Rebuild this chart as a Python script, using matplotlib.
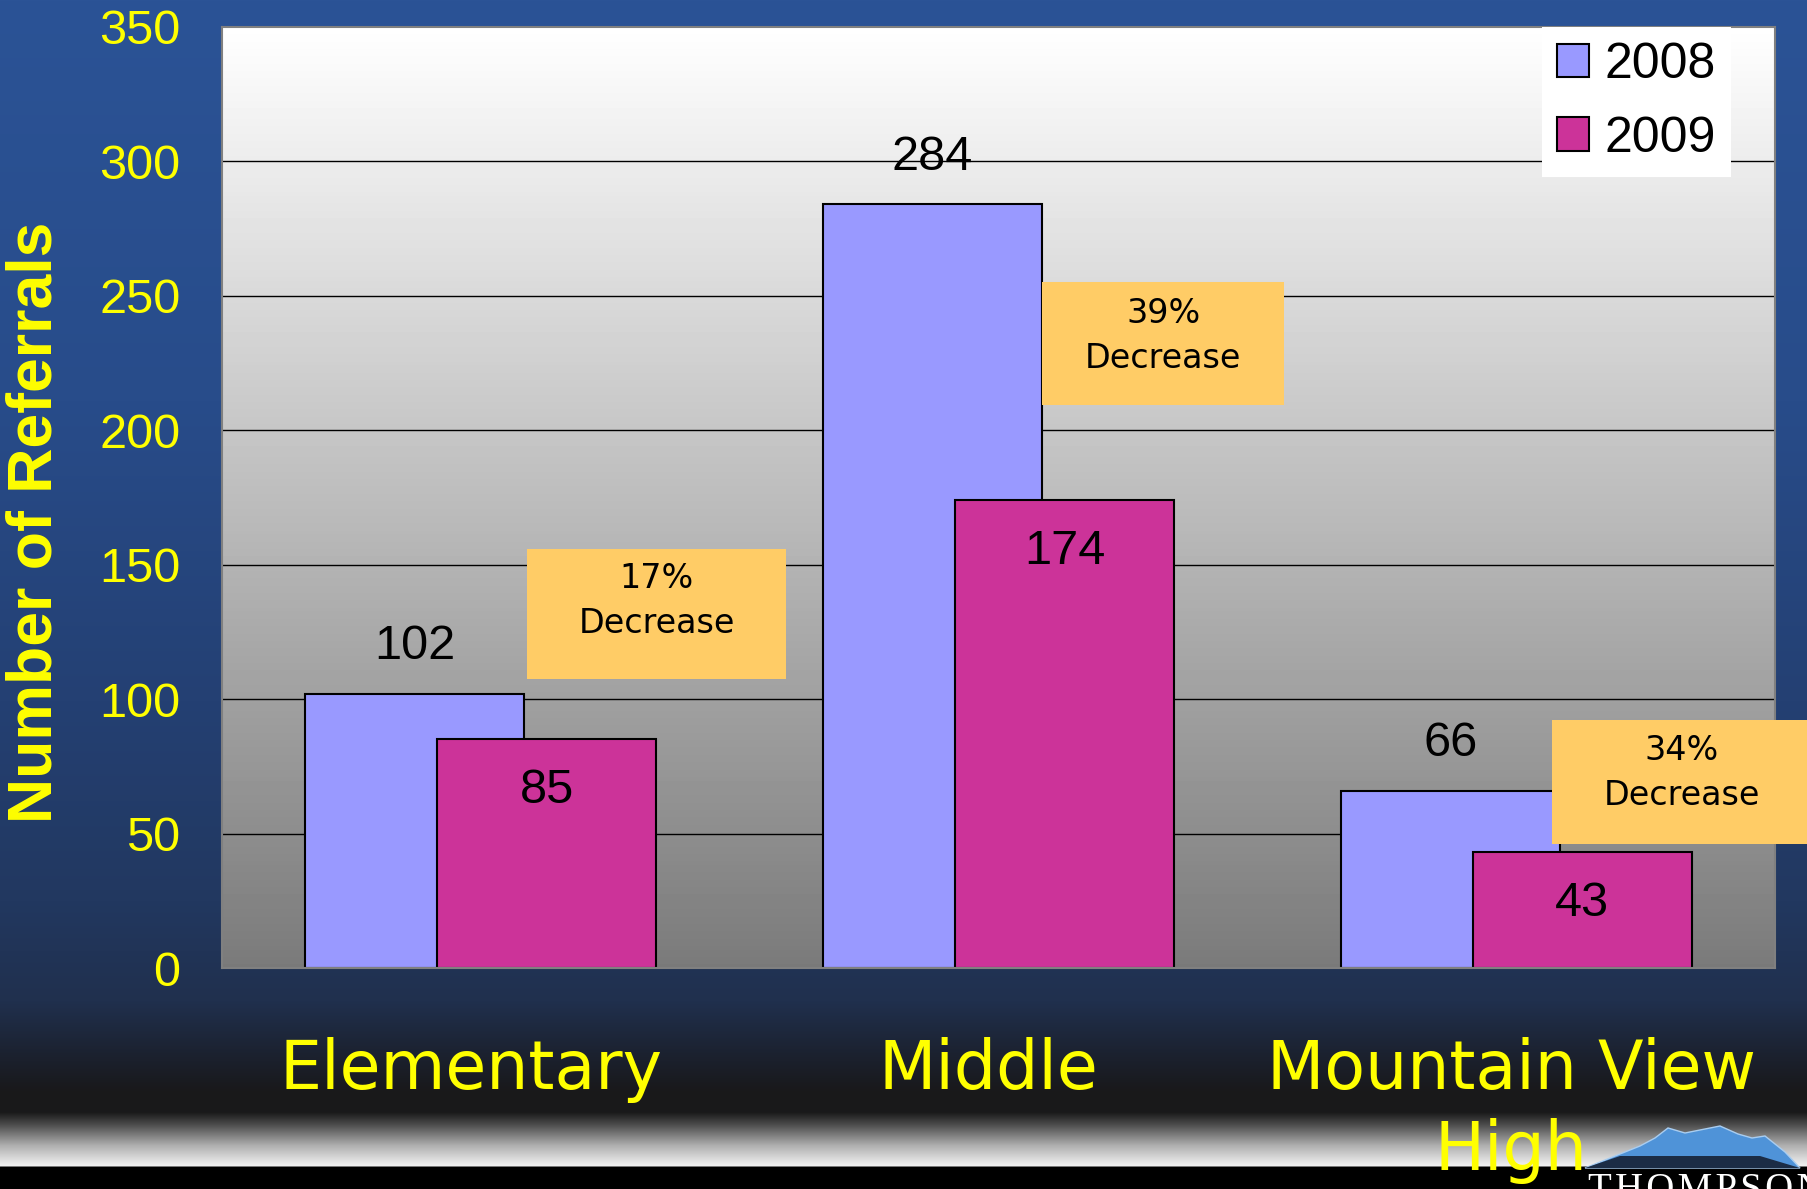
import numpy as np
import matplotlib
matplotlib.use("Agg")
import matplotlib.pyplot as plt
from matplotlib.patches import Rectangle, Patch, Polygon
from matplotlib.transforms import ScaledTranslation

# data
categories = ["Elementary", "Middle", "Mountain View\nHigh"]
years = ["2008", "2009"]
referrals_2008 = [102, 284, 66]
referrals_2009 = [85, 174, 43]
pct_labels = ["17%", "39%", "34%"]
y_ticks = [0, 50, 100, 150, 200, 250, 300, 350]

c2008 = "#9999FF"
c2009 = "#CC3399"
yellow = "#FFFF00"
W, H = 1808, 1189

fig = plt.figure(figsize=(W / 100, H / 100), dpi=100)

# slide background (pixel coordinates)
bg = fig.add_axes([0, 0, 1, 1], zorder=-5)
bg.set_axis_off()
stops = np.array([
    [0, 43, 83, 150], [400, 40, 76, 138], [700, 36, 64, 115], [900, 34, 56, 96],
    [1000, 32, 48, 78], [1060, 27, 32, 44], [1090, 25, 25, 27], [1112, 26, 26, 26],
    [1125, 80, 80, 80], [1145, 175, 175, 175], [1160, 225, 225, 225],
    [1165, 240, 240, 240], [1167, 0, 0, 0], [1189, 0, 0, 0]])
yy = np.arange(H)
grad = np.stack([np.interp(yy, stops[:, 0], stops[:, k]) for k in (1, 2, 3)], axis=-1) / 255
bg.imshow(grad[:, None, :], extent=(0, W, H, 0), aspect="auto")
bg.set_xlim(0, W)
bg.set_ylim(H, 0)

# logo
mountain = [(1585, 1168), (1615, 1156), (1640, 1146), (1655, 1138), (1668, 1128),
            (1685, 1133), (1700, 1130), (1720, 1126), (1738, 1134), (1752, 1138),
            (1765, 1136), (1785, 1152), (1800, 1168)]
bg.add_patch(Polygon(mountain, closed=True, facecolor="#4f93d8", edgecolor="#a9cdf0", lw=1))
bg.add_patch(Polygon([(1585, 1168), (1620, 1156), (1760, 1156), (1800, 1168)],
                     closed=True, facecolor="#1b2c45", edgecolor="none"))
bg.text(1588, 1172, "\u200a".join("THOMPSON"), color="white", fontsize=28,
        family=["Liberation Serif", "DejaVu Serif"], ha="left", va="top")

# chart
ax = fig.add_axes([222 / W, 1 - 968 / H, (1775 - 222) / W, (968 - 27) / H])
x = np.arange(len(categories))
width = 0.423
off = 0.1275

grad_area = np.linspace(0.48, 1.0, 256)[:, None]
ax.imshow(grad_area, extent=(-0.5, 2.5, 0, 350), aspect="auto", cmap="gray",
          vmin=0, vmax=1, origin="lower", zorder=0)

b1 = ax.bar(x - off, referrals_2008, width, color=c2008, edgecolor="black", lw=1.5, zorder=2)
b2 = ax.bar(x + off, referrals_2009, width, color=c2009, edgecolor="black", lw=1.5, zorder=2.1)

for xi, v in zip(x - off, referrals_2008):
    ax.annotate(str(v), (xi, v), xytext=(0, 34), textcoords="offset points",
                ha="center", va="center", fontsize=35, family="Liberation Sans", zorder=5)
for xi, v in zip(x + off, referrals_2009):
    ax.annotate(str(v), (xi, v), xytext=(0, -37), textcoords="offset points",
                ha="center", va="center", fontsize=35, family="Liberation Sans", zorder=5)

# decrease call-outs
boxes = [(0.089, 107.5, 0.500, 48.3), (1.084, 209.4, 0.467, 45.7), (2.069, 46.1, 0.502, 46.1)]
text_pos = [(0.34, 136.5), (1.318, 235.0), (2.32, 72.6)]
for (bx, by, bw, bh), (tx, ty), p in zip(boxes, text_pos, pct_labels):
    ax.add_patch(Rectangle((bx, by), bw, bh, facecolor="#FFCC66", edgecolor="none",
                           zorder=3, clip_on=False))
    ax.text(tx, ty, p + "\nDecrease", ha="center", va="center", fontsize=24,
            family="DejaVu Sans", linespacing=1.45, zorder=4, clip_on=False)

ax.set_xlim(-0.5, 2.5)
ax.set_ylim(0, 350)
ax.set_yticks(y_ticks)
ax.set_axisbelow(True)
ax.grid(axis="y", color="black", lw=1)
gl = ax.get_ygridlines()
gl[0].set_visible(False)
gl[-1].set_visible(False)

ax.set_xticks(x, categories)
ax.tick_params(axis="x", length=0, pad=50, labelsize=48, labelcolor=yellow)
ax.tick_params(axis="y", length=0, pad=30, labelsize=35, labelcolor=yellow)
x_shift = [-10, -10, -5]
for lbl, dx in zip(ax.get_xticklabels(), x_shift):
    lbl.set_fontfamily("DejaVu Sans")
    lbl.set_linespacing(1.28)
    lbl.set_transform(lbl.get_transform() + ScaledTranslation(dx / 100, 0, fig.dpi_scale_trans))
for lbl in ax.get_yticklabels():
    lbl.set_fontfamily("Liberation Sans")

for s in ax.spines.values():
    s.set_color("#808080")
    s.set_linewidth(1.5)

handles = [Patch(facecolor=c2008, edgecolor="black", lw=1.5),
           Patch(facecolor=c2009, edgecolor="black", lw=1.5)]
leg = ax.legend(handles, years, loc="upper right", bbox_to_anchor=(0.9715, 1.0),
                borderaxespad=0, frameon=True, fancybox=False, framealpha=1,
                facecolor="white", edgecolor="none", handlelength=0.65, handleheight=0.65,
                handletextpad=0.3, labelspacing=0.55, borderpad=0.3,
                prop={"family": "Liberation Sans", "size": 36})
leg.set_zorder(6)

fig.text(35 / W, 1 - 522 / H, "Number of Referrals", rotation=90, ha="center", va="center",
         color=yellow, fontsize=45, fontweight="bold", family="Liberation Sans")

fig.savefig("out.png", dpi=100)
